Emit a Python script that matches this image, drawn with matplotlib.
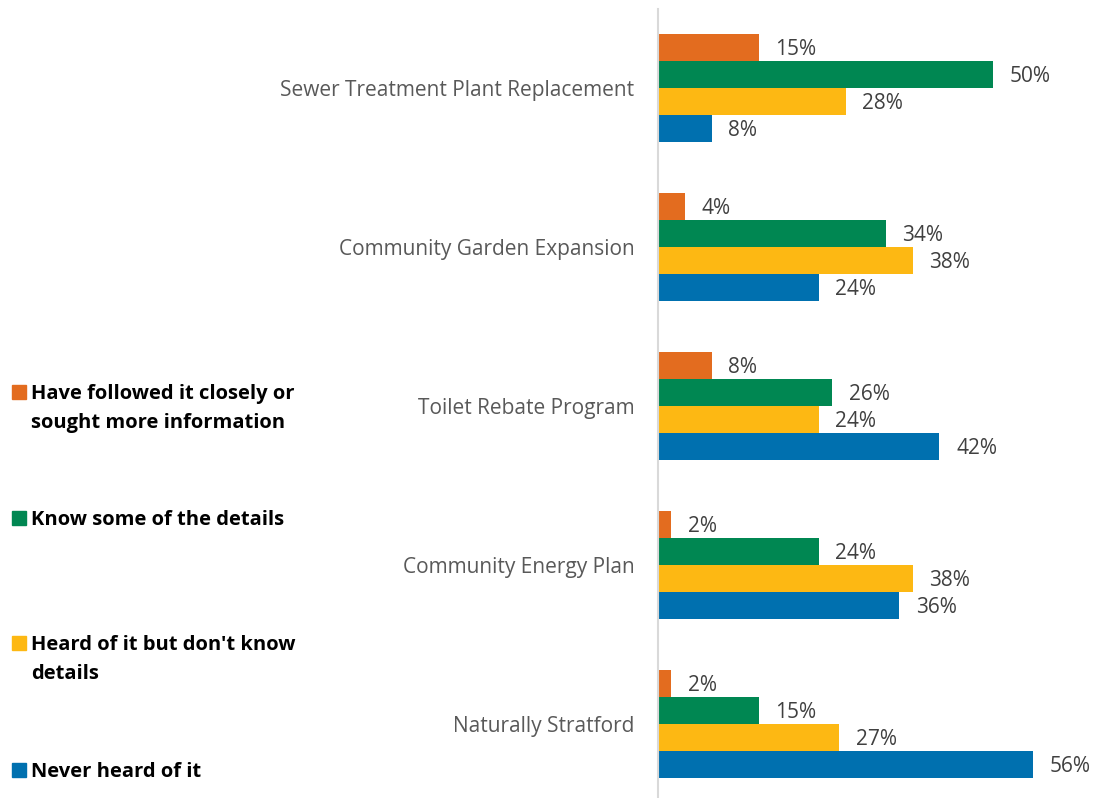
import matplotlib.pyplot as plt
from matplotlib.patches import Rectangle

programs = ['Sewer Treatment Plant Replacement', 'Community Garden Expansion',
            'Toilet Rebate Program', 'Community Energy Plan', 'Naturally Stratford']
series = ['Have followed it closely or\nsought more information',
          'Know some of the details',
          "Heard of it but don't know\ndetails",
          'Never heard of it']
followed = [15, 4, 8, 2, 2]
know_some = [50, 34, 26, 24, 15]
heard_of = [28, 38, 24, 38, 27]
never_heard = [8, 24, 42, 36, 56]
colors = ['#E36C1F', '#008752', '#FDB813', '#0070AF']

plt.rcParams['font.family'] = ['Open Sans', 'DejaVu Sans']

fig = plt.figure(figsize=(10.93, 7.98), dpi=100)
ax = fig.add_axes([658 / 1093, 0, 435 / 1093, (798 - 8.5) / 798])

h = 0.17
values = [followed, know_some, heard_of, never_heard]
for i, (vals, c) in enumerate(zip(values, colors)):
    ys = [g + (i - 1.5) * h for g in range(len(programs))]
    ax.barh(ys, vals, height=h, color=c, edgecolor='none')
    for y, v in zip(ys, vals):
        ax.annotate(f'{v}%', (v, y), xytext=(12, -1.5), textcoords='offset points',
                    va='center', ha='left', fontsize=15, color='#404040')

ax.set_xlim(0, 435 / 6.7)
ax.set_ylim((798 - 8.5) / 159 - 0.5, -0.5)
ax.set_xticks([])
ax.set_yticks(range(len(programs)))
ax.set_yticklabels(programs, fontsize=15, color='#595959')
ax.tick_params(axis='y', length=0, pad=17)
for s in ['top', 'right', 'bottom']:
    ax.spines[s].set_visible(False)
ax.spines['left'].set_color('#D9D9D9')
ax.spines['left'].set_linewidth(1.5)

# legend drawn down the left side
leg_y = [392, 518, 643, 770]
for label, c, y in zip(series, colors, leg_y):
    fig.patches.append(Rectangle((12 / 1093, 1 - (y + 7) / 798), 14 / 1093, 14 / 798,
                                 transform=fig.transFigure, color=c))
    fig.text(31 / 1093, 1 - (y - 8) / 798, label, ha='left', va='top',
             fontsize=14.5, fontweight='bold', color='black', linespacing=1.6)

fig.savefig('out.png', dpi=100)
